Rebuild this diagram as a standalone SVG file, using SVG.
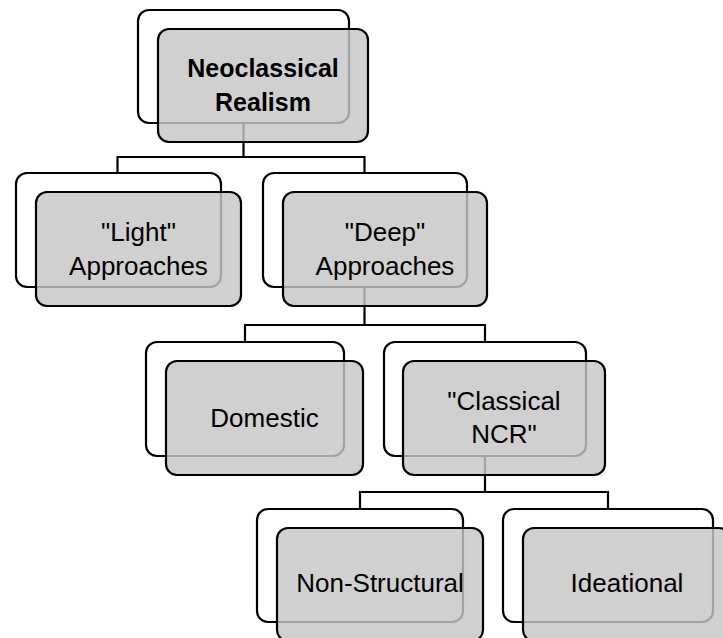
<svg xmlns="http://www.w3.org/2000/svg" width="723" height="638" viewBox="0 0 723 638">
<style>
.back{fill:#ffffff;stroke:#000;stroke-width:2.2}
.front{fill:#c6c6c6;fill-opacity:0.82;stroke:#000;stroke-width:2.2}
.conn{fill:none;stroke:#000;stroke-width:2.2}
text{font-family:"Liberation Sans",Arial,sans-serif;font-size:26px;fill:#000;text-anchor:middle}
.b{font-weight:bold;font-size:25px}
</style>
<rect width="723" height="638" fill="#fff"/>
<g id="connectors">
<path class="conn" d="M243.5,123 V157 M117.5,173 V157 H364.5 V173"/>
<path class="conn" d="M364.5,287 V325 M245,342 V325 H485 V342"/>
<path class="conn" d="M485,456 V492 M360,509 V492 H608 V509"/>
</g>
<g id="n-root">
<rect class="back" x="138" y="10" width="211" height="113" rx="11"/>
<rect class="front" x="158" y="29" width="210" height="113" rx="11"/>
<text class="b" x="263" y="77">Neoclassical</text>
<text class="b" x="263" y="111">Realism</text>
</g>
<g id="n-light">
<rect class="back" x="16" y="173" width="205" height="114" rx="11"/>
<rect class="front" x="36" y="192" width="205" height="114" rx="11"/>
<text x="138.5" y="241">"Light"</text>
<text x="138.5" y="275">Approaches</text>
</g>
<g id="n-deep">
<rect class="back" x="263" y="173" width="204" height="114" rx="11"/>
<rect class="front" x="283" y="192" width="204" height="114" rx="11"/>
<text x="385" y="241">"Deep"</text>
<text x="385" y="275">Approaches</text>
</g>
<g id="n-domestic">
<rect class="back" x="146" y="342" width="198" height="114" rx="11"/>
<rect class="front" x="166" y="361" width="197" height="114" rx="11"/>
<text x="264.5" y="427">Domestic</text>
</g>
<g id="n-classical">
<rect class="back" x="384" y="342" width="202" height="114" rx="11"/>
<rect class="front" x="403" y="361" width="202" height="114" rx="11"/>
<text x="504" y="410">"Classical</text>
<text x="504" y="443">NCR"</text>
</g>
<g id="n-nonstructural">
<rect class="back" x="257" y="509" width="206" height="113" rx="11"/>
<rect class="front" x="277" y="528" width="206" height="113" rx="11"/>
<text x="380" y="592">Non-Structural</text>
</g>
<g id="n-ideational">
<rect class="back" x="503" y="509" width="210" height="113" rx="11"/>
<rect class="front" x="523" y="528" width="207" height="113" rx="11"/>
<text x="627" y="592">Ideational</text>
</g>
</svg>
